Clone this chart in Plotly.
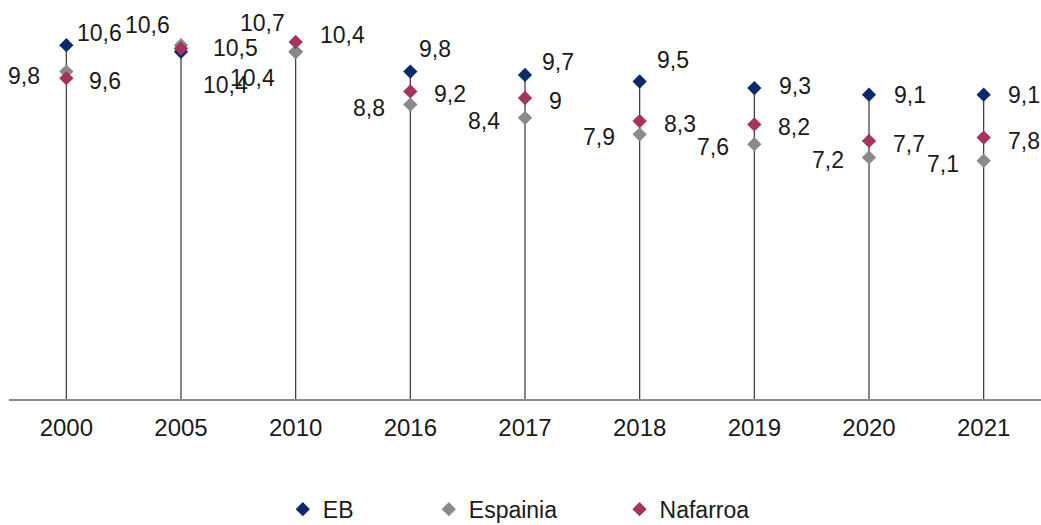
import plotly.graph_objects as go

years = ['2000', '2005', '2010', '2016', '2017', '2018', '2019', '2020', '2021']
eb = [10.6, 10.4, 10.4, 9.8, 9.7, 9.5, 9.3, 9.1, 9.1]
espainia = [9.8, 10.6, 10.4, 8.8, 8.4, 7.9, 7.6, 7.2, 7.1]
nafarroa = [9.6, 10.5, 10.7, 9.2, 9.0, 8.3, 8.2, 7.7, 7.8]

FONT = 'Liberation Sans, Arial, sans-serif'
Y_MIN, Y_MAX = -0.12, 11.97

# label placement per point: (xanchor, xshift, yshift)
eb_lbl = [('left', 9, 12), ('left', 20, -33), ('left', 22, 17), ('left', 7, 23),
          ('left', 15, 13), ('left', 15, 22), ('left', 23, 2), ('left', 23, 0),
          ('left', 22, 0)]
esp_lbl = [('right', -24, -4), ('right', -9, 20), ('right', -19, -26)] + [('right', -23, -3)] * 6
naf_lbl = [('left', 21, -3), ('left', 30, 1), ('right', -9, 19)] + [('left', 22, -3)] * 6

# legend spacing (trailing non-breaking spaces widen the entries like the original)
series = [
    ('EB', eb, '#0b2a6e', eb_lbl, 11),
    ('Espainia', espainia, '#8a8a8a', esp_lbl, 9),
    ('Nafarroa', nafarroa, '#a8315f', naf_lbl, 0),
]

fig = go.Figure()

# drop lines from the highest point down to the axis
lx, ly = [], []
for yr, a, b, c in zip(years, eb, espainia, nafarroa):
    lx += [yr, yr, None]
    ly += [Y_MIN, max(a, b, c), None]
fig.add_trace(go.Scatter(x=lx, y=ly, mode='lines', line=dict(color='#333333', width=1.2),
                         showlegend=False, hoverinfo='skip'))

annotations = []
for name, vals, color, lbl, pad in series:
    fig.add_trace(go.Scatter(
        x=years, y=vals, mode='markers', name=name + '\u00a0' * pad,
        marker=dict(symbol='diamond', size=11, color=color),
        hovertemplate=name + ': %{y}<extra></extra>',
    ))
    for i, (v, (anchor, xs, ys)) in enumerate(zip(vals, lbl)):
        annotations.append(dict(
            x=i, y=v, xref='x', yref='y', text=f'{v:g}'.replace('.', ','),
            showarrow=False, xanchor=anchor, yanchor='middle', xshift=xs, yshift=ys,
            font=dict(family=FONT, size=23, color='#1a1a1a'),
        ))

fig.update_layout(
    width=1041, height=525,
    margin=dict(l=9, r=0, t=0, b=126),
    paper_bgcolor='white', plot_bgcolor='white',
    font=dict(family=FONT, size=23, color='#1a1a1a'),
    annotations=annotations,
    showlegend=True,
    legend=dict(orientation='h', x=0.494, xanchor='center', yref='container',
                y=0.03, yanchor='middle', font=dict(size=23), itemwidth=30),
)
fig.update_xaxes(type='category', range=[-0.5, len(years) - 0.5], showline=True,
                 linecolor='#8c8c8c', linewidth=1.5, showgrid=False, ticks='',
                 ticklabelstandoff=6, tickfont=dict(size=24, color='#1a1a1a'))
fig.update_yaxes(range=[Y_MIN, Y_MAX], showticklabels=False, showline=False,
                 showgrid=False, zeroline=False, ticks='')

fig.write_html('out.html', config={'displayModeBar': False},
               post_script="document.body.style.margin='0';")
